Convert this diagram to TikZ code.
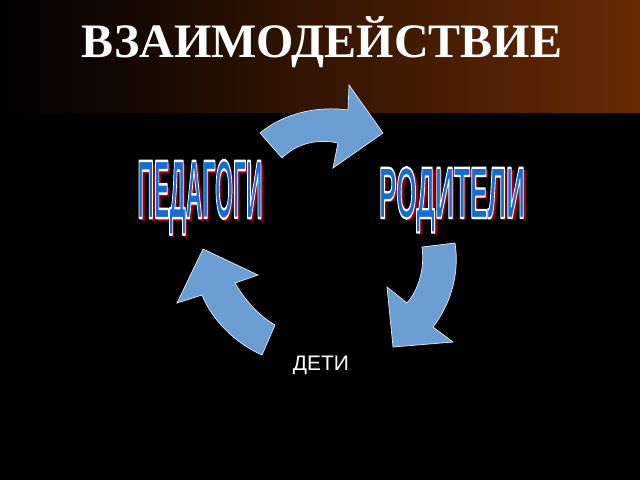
\documentclass[tikz,border=0pt]{standalone}
\usepackage{fontspec}
\setmainfont{Liberation Serif}
\setsansfont{Liberation Sans}
\usepackage{xcolor}
\usepackage{graphicx}
\usetikzlibrary{positioning}

\definecolor{bandbrown}{RGB}{104,42,4}
\definecolor{arrowblue}{RGB}{108,158,212}
\definecolor{artblue}{RGB}{22,108,214}
\definecolor{artshadow}{RGB}{165,0,10}

\tikzstyle{cyclearrow} = [fill=arrowblue, draw=white!80!arrowblue, line width=0.7pt, line join=miter]
\tikzstyle{art}        = [inner sep=0pt, anchor=base]

% WordArt-like squeezed caps: red shadow, white edge, blue face
\newcommand{\artword}[3]{\resizebox{#1}{#2}{\sffamily\bfseries
		\rlap{\kern1.1pt\raisebox{-0.4pt}{\color{artshadow}#3}}%
		{\color{artblue}\special{pdf:literal direct 1 1 1 RG 0.3 w 1 j 2 Tr}#3\special{pdf:literal direct 0 Tr}}}}

\begin{document}
\begin{tikzpicture}[x=1pt,y=-1pt,
			titletext/.style={inner sep=0pt, anchor=base, text=white, font=\fontsize{48}{50}\selectfont\bfseries},
			childtext/.style={inner sep=0pt, anchor=base, text=white, font=\sffamily\fontsize{21}{24}\selectfont},
		]

		% background and top band
		\fill[black] (0,0) rectangle (640,480);
		\shade[left color=black, right color=bandbrown] (0,0) rectangle (640,112);

		\node[titletext] (title) at (322,57) {ВЗАИМОДЕЙСТВИЕ};

		% the three curved arrows
		\draw[cyclearrow] (260,133) .. controls (285,112) and (320,106) .. (348,110)
			-- (349,85) -- (383,133) -- (333,168) -- (338,143)
			.. controls (315,138) and (295,145) .. (282,158) -- cycle;
		\draw[cyclearrow] (422,247) -- (455,243) .. controls (460,275) and (450,305) .. (433,327)
			-- (453,342) -- (393,347) -- (387,287) -- (407,303)
			.. controls (418,290) and (425,270) .. (422,247) -- cycle;
		\draw[cyclearrow] (275,325) -- (262,355) .. controls (235,343) and (212,320) .. (202,295)
			-- (177,303) -- (203,249) -- (258,275) -- (235,283)
			.. controls (245,300) and (258,315) .. (275,325) -- cycle;

		% labels
		\node[art] (pedagogi) at (200,218) {\artword{125pt}{58pt}{ПЕДАГОГИ}};
		\node[art] (roditeli) at (452,218) {\artword{146pt}{51pt}{РОДИТЕЛИ}};

		\node[childtext] (deti) at (321,370) {ДЕТИ};
	\end{tikzpicture}
\end{document}
